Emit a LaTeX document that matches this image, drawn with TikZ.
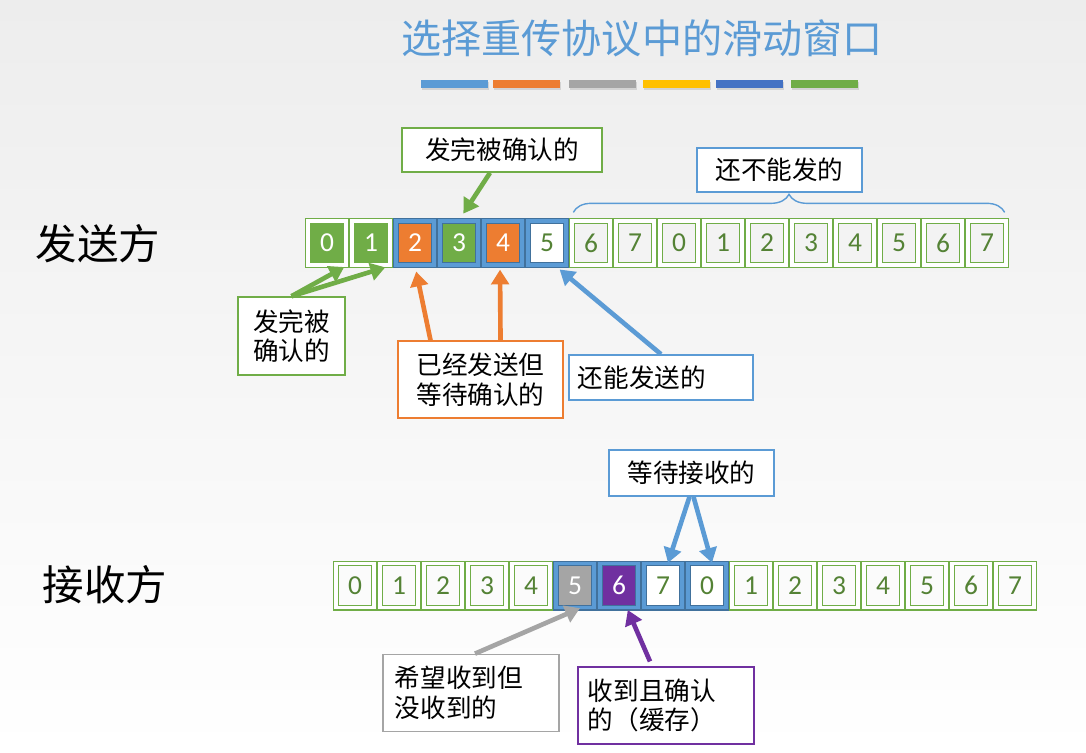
\documentclass[tikz,border=0pt]{standalone}
\usepackage{fontspec}
\setmainfont{Noto Sans CJK SC}
\newfontfamily\numfont{Carlito}
\usetikzlibrary{arrows.meta,shadows,decorations.pathreplacing,positioning}
\definecolor{winBlue}{RGB}{91,155,213}
\definecolor{winDark}{RGB}{65,113,156}
\definecolor{okGreen}{RGB}{112,173,71}
\definecolor{numGreen}{RGB}{84,130,53}
\definecolor{sentOrange}{RGB}{237,125,49}
\definecolor{lostGray}{RGB}{165,165,165}
\definecolor{goldBar}{RGB}{255,192,0}
\definecolor{navyBar}{RGB}{68,114,196}
\definecolor{bufPurple}{RGB}{112,48,160}
\definecolor{bgTop}{RGB}{237,237,237}
\tikzset{
  cell/.style={
    rectangle, inner sep=0pt, minimum width=0.955cm, minimum height=1.105cm,
    line width=0.8pt, double distance=2.5pt, font=\numfont\fontsize{19.5}{19.5}\selectfont
  },
  freecell/.style={cell, draw=okGreen, double=white, text=numGreen},
  donecell/.style={cell, draw=okGreen, double=white, fill=okGreen, text=white},
  wincell/.style={cell, draw=winDark, double=winBlue, fill=#1, text=white},
  tag/.style={
    rectangle, draw=#1, line width=1.1pt, fill=white, inner sep=0.2cm,
    font=\fontsize{18.2}{21}\selectfont
  },
  arr/.style={-{Triangle[length=10.5pt,width=12.5pt]}, line width=3.3pt, draw=#1},
  bar/.style={rectangle, inner sep=0pt, minimum width=1.675cm, minimum height=0.2cm,
    drop shadow={shadow xshift=0.6pt,shadow yshift=-1.5pt,opacity=0.25}}
}
\begin{document}
\begin{tikzpicture}[x=0.025cm, y=-0.025cm]
  \fill[top color=bgTop, bottom color=white] (0,0) rectangle (1086,752);
  % title
  \node[font=\fontsize{28.5}{28.5}\selectfont, text=winBlue] (title) at (642,38)
    {选择重传协议中的滑动窗口};
  \node[bar, fill=winBlue]    (bar1) at (454.5,84) {};
  \node[bar, fill=sentOrange] (bar2) at (526.5,84) {};
  \node[bar, fill=lostGray]   (bar3) at (602.5,84) {};
  \node[bar, fill=goldBar]    (bar4) at (676.5,84) {};
  \node[bar, fill=navyBar]    (bar5) at (749.5,84) {};
  \node[bar, fill=okGreen]    (bar6) at (824.5,84) {};
  \node[font=\fontsize{29.5}{29.5}\selectfont] (sender) at (98,244) {发送方};
  \node[font=\fontsize{29.5}{29.5}\selectfont] (receiver) at (105,585) {接收方};
  % sender window
  \node[donecell] (s0) at (327,243) {0};
  \node[donecell] (s1) at (371,243) {1};
  \node[wincell=sentOrange] (s2) at (415,243) {2};
  \node[wincell=okGreen]    (s3) at (459,243) {3};
  \node[wincell=sentOrange] (s4) at (503,243) {4};
  \node[wincell=white, text=numGreen] (s5) at (547,243) {5};
  \node[freecell] (s6)  at (591,243) {6};
  \node[freecell] (s7)  at (635,243) {7};
  \node[freecell] (s8)  at (679,243) {0};
  \node[freecell] (s9)  at (723,243) {1};
  \node[freecell] (s10) at (767,243) {2};
  \node[freecell] (s11) at (811,243) {3};
  \node[freecell] (s12) at (855,243) {4};
  \node[freecell] (s13) at (899,243) {5};
  \node[freecell] (s14) at (943,243) {6};
  \node[freecell] (s15) at (987,243) {7};
  % receiver window
  \node[freecell] (r0) at (355,585.5) {0};
  \node[freecell] (r1) at (399,585.5) {1};
  \node[freecell] (r2) at (443,585.5) {2};
  \node[freecell] (r3) at (487,585.5) {3};
  \node[freecell] (r4) at (531,585.5) {4};
  \node[wincell=lostGray]  (r5) at (575,585.5) {5};
  \node[wincell=bufPurple] (r6) at (619,585.5) {6};
  \node[wincell=white, text=numGreen] (r7) at (663,585.5) {7};
  \node[wincell=white, text=numGreen] (r8) at (707,585.5) {0};
  \node[freecell] (r9)  at (751,585.5) {1};
  \node[freecell] (r10) at (795,585.5) {2};
  \node[freecell] (r11) at (839,585.5) {3};
  \node[freecell] (r12) at (883,585.5) {4};
  \node[freecell] (r13) at (927,585.5) {5};
  \node[freecell] (r14) at (971,585.5) {6};
  \node[freecell] (r15) at (1015,585.5) {7};
  % sender labels
  \node[tag=okGreen, minimum width=5cm, minimum height=1.1cm] (tb) at (502,150) {发完被确认的};
  \node[tag=winBlue, minimum width=4.125cm, minimum height=1.1cm] (nb) at (779.5,170) {还不能发的};
  \node[tag=okGreen, minimum width=2.675cm, minimum height=1.95cm, align=center] (lb) at (291.5,336)
    {发完被\\确认的};
  \node[tag=sentOrange, minimum width=4.125cm, minimum height=1.925cm, align=center] (ob) at (480.5,379.5)
    {已经发送但\\等待确认的};
  \node[tag=winBlue, inner sep=0.225cm, text width=4.15cm, minimum height=1.125cm, align=left] (bn) at (661,377.5)
    {还能发送的};
  \draw[winBlue, line width=1pt, decorate, decoration={brace, amplitude=0.45cm}]
    ([shift={(0.05cm,0.2cm)}]s6.north west) -- ([shift={(-0.05cm,0.2cm)}]s15.north east);
  \draw[arr=okGreen, shorten >=2pt] (lb.north) -- (s0.south east);
  \draw[arr=okGreen, shorten >=4pt] (lb.north) -- (s1.south east);
  \draw[arr=okGreen, shorten >=0.2cm] ([xshift=-0.3cm]tb.south) -- (s3.north);
  \draw[arr=sentOrange, shorten >=0.15cm] ([xshift=-1.25cm]ob.north) -- (s2.south);
  \draw[arr=sentOrange, shorten >=0.1cm] ([xshift=0.5cm]ob.north) -- ([xshift=-0.075cm]s4.south);
  \draw[arr=winBlue, shorten >=0.15cm] (bn.north) -- ([xshift=0.2cm]s5.south);
  % receiver labels
  \node[tag=winBlue, minimum width=4.125cm, minimum height=1.15cm] (wt) at (691.5,473) {等待接收的};
  \node[tag=lostGray, inner sep=0.3cm, text width=3.8cm, minimum height=1.8cm, align=left] (gb) at (471,693)
    {希望收到但\\没收到的};
  \node[tag=bufPurple, inner sep=0.25cm, text width=3.9cm, minimum height=1.925cm, align=left] (pb) at (666,705.5)
    {收到且确认\\的（缓存）};
  \draw[arr=winBlue] ([xshift=-0.05cm]wt.south) -- ([xshift=0.125cm]r7.north);
  \draw[arr=winBlue] ([xshift=0.05cm]wt.south) -- ([xshift=0.125cm]r8.north);
  \draw[arr=lostGray] ([xshift=0.1cm]gb.north) -- ([xshift=0.125cm]r5.south);
  \draw[arr=bufPurple, shorten >=0.05cm] ([xshift=-0.4cm,yshift=0.12cm]pb.north) -- ([xshift=0.2cm]r6.south);
\end{tikzpicture}
\end{document}
